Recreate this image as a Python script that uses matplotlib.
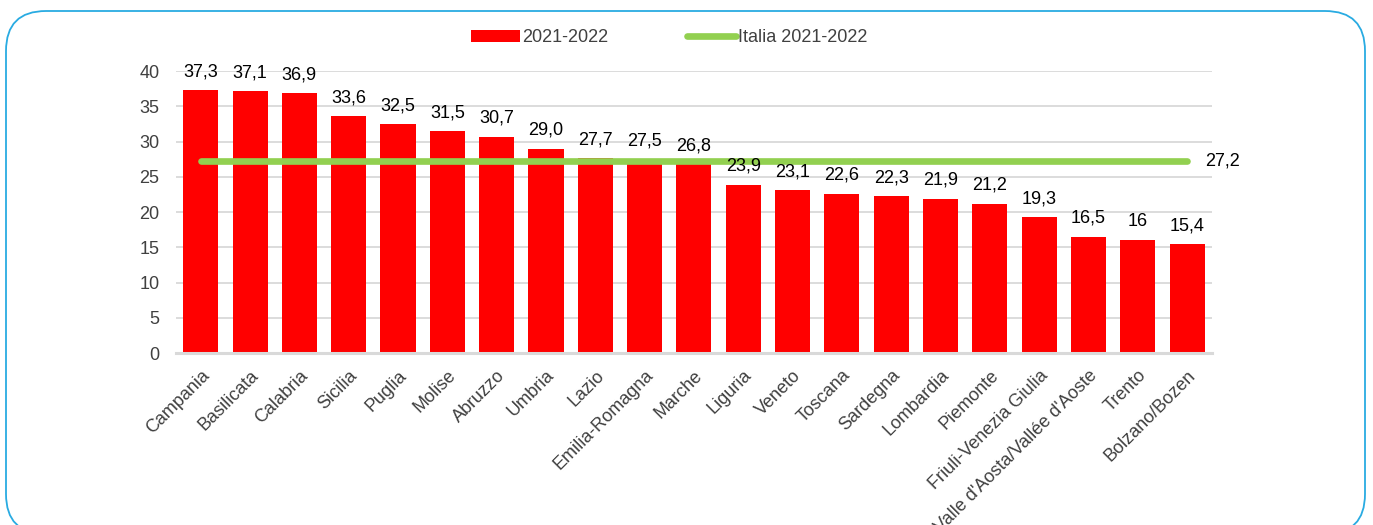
import matplotlib.pyplot as plt
from matplotlib.patches import FancyBboxPatch, Patch
from matplotlib.lines import Line2D
from matplotlib.transforms import IdentityTransform

regions = ["Campania", "Basilicata", "Calabria", "Sicilia", "Puglia", "Molise",
           "Abruzzo", "Umbria", "Lazio", "Emilia-Romagna", "Marche", "Liguria",
           "Veneto", "Toscana", "Sardegna", "Lombardia", "Piemonte",
           "Friuli-Venezia Giulia", "Valle d'Aosta/Vallée d'Aoste", "Trento",
           "Bolzano/Bozen"]
values = [37.3, 37.1, 36.9, 33.6, 32.5, 31.5, 30.7, 29.0, 27.7, 27.5, 26.8,
          23.9, 23.1, 22.6, 22.3, 21.9, 21.2, 19.3, 16.5, 16, 15.4]
italia = 27.2
yticks = [0, 5, 10, 15, 20, 25, 30, 35, 40]


def fmt(v):
    # integers stay without decimals, as in the source table
    if isinstance(v, int):
        return str(v)
    return f"{v:.1f}".replace(".", ",")


plt.rcParams['font.family'] = ['Liberation Sans', 'DejaVu Sans']
FS = 13

fig = plt.figure(figsize=(13.73, 5.25), dpi=100)
ax = fig.add_axes([0.1282, 0.3276, 0.7545, 0.5371])

# rounded frame around the whole chart (pixel coordinates)
frame = FancyBboxPatch((6, -9), 1359, 523, boxstyle="round,pad=0,rounding_size=40",
                       transform=IdentityTransform(), facecolor="none",
                       edgecolor="#29ABE2", linewidth=1.3)
fig.patches.append(frame)

x = range(len(regions))
ax.bar(x, values, width=0.71, color="#FF0000", zorder=2)
ax.plot([0, len(regions) - 1], [italia, italia], color="#92D050", linewidth=4.8,
        solid_capstyle="round", zorder=3)

for i, v in enumerate(values):
    ax.annotate(fmt(v), (i, v), xytext=(0, 7), textcoords="offset points",
                ha="center", va="bottom", fontsize=FS, color="black")
ax.annotate(fmt(italia), (len(regions) - 1, italia), xytext=(13, 0),
            textcoords="offset points", ha="left", va="center", fontsize=FS,
            color="black")

ax.set_xlim(-0.5, len(regions) - 0.5)
ax.set_ylim(0, 40)
ax.set_yticks(yticks)
ax.set_yticklabels([str(t) for t in yticks], fontsize=FS, color="#404040")
ax.set_xticks(list(x))
ax.set_xticklabels(regions, fontsize=FS, color="#404040", rotation=45,
                   ha="right", va="top", rotation_mode="anchor")
ax.tick_params(axis="both", length=0)
ax.tick_params(axis="y", pad=12)
ax.tick_params(axis="x", pad=10)

ax.grid(axis="y", color="#D9D9D9", linewidth=1.3, zorder=0)
ax.set_axisbelow(True)
for s in ["top", "right", "left"]:
    ax.spines[s].set_visible(False)
ax.spines["bottom"].set_color("#D9D9D9")
ax.spines["bottom"].set_linewidth(2.2)
ax.spines["bottom"].set_zorder(4)

handles = [Patch(facecolor="#FF0000", edgecolor="none", label="2021-2022"),
           Line2D([0], [0], color="#92D050", linewidth=4.8, solid_capstyle="round",
                  label="Italia 2021-2022")]
fig.legend(handles=handles, loc="center", bbox_to_anchor=(0.4875, 0.928), ncol=2,
           frameon=False, fontsize=FS, handlelength=2.7, handleheight=0.6,
           handletextpad=0.1, columnspacing=4.4, labelcolor="#404040")

fig.savefig("out.png", dpi=100)
